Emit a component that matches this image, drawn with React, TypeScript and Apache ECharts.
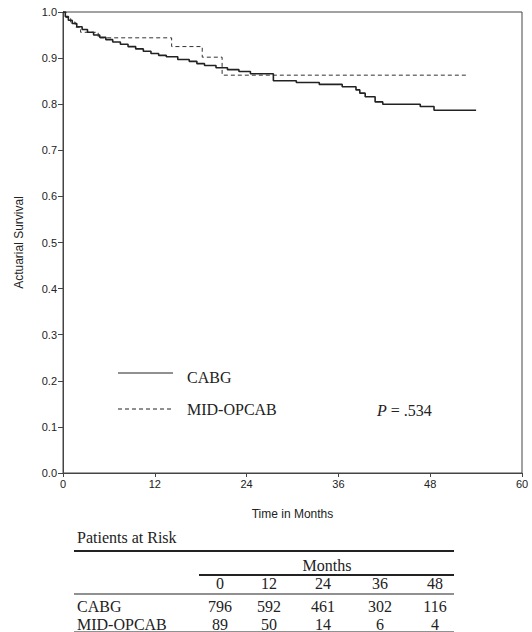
import React, { useEffect, useRef } from "react";
import * as echarts from "echarts";

const cabgMonths = [0, 0.3, 0.7, 1.2, 1.8, 2.5, 3.2, 4.0, 4.8, 5.6, 6.5, 7.5, 8.5, 9.5, 10.5, 11.5, 12.5, 13.5, 15.0, 16.5, 17.5, 18.5, 20.0, 21.5, 23.0, 24.5, 27.5, 30.5, 33.5, 36.5, 38.3, 38.8, 39.5, 40.8, 41.8, 46.7, 48.5, 54.0];
const cabgSurvival = [1.0, 0.99, 0.982, 0.975, 0.968, 0.962, 0.956, 0.95, 0.945, 0.94, 0.935, 0.93, 0.925, 0.92, 0.915, 0.91, 0.906, 0.903, 0.897, 0.893, 0.888, 0.884, 0.879, 0.875, 0.871, 0.866, 0.851, 0.847, 0.843, 0.838, 0.831, 0.824, 0.816, 0.805, 0.8, 0.795, 0.787, 0.787];

const opcabMonths = [0, 0.4, 1.0, 1.6, 2.3, 4.6, 14.2, 18.2, 20.8, 53.0];
const opcabSurvival = [1.0, 0.988, 0.978, 0.967, 0.956, 0.944, 0.925, 0.902, 0.863, 0.863];

const xTicks = [0, 12, 24, 36, 48, 60];

const riskMonths = ["0", "12", "24", "36", "48"];
const riskCabg = ["796", "592", "461", "302", "116"];
const riskOpcab = ["89", "50", "14", "6", "4"];
const riskGroups = ["CABG", "MID-OPCAB"];

const SERIF = "'Liberation Serif', 'Times New Roman', serif";
const SANS = "'Liberation Sans', Arial, sans-serif";
const INK = "#222";
const FS = 16;

export default function App() {
  const ref = useRef<HTMLDivElement>(null);

  useEffect(() => {
    if (!ref.current) return;
    const chart = echarts.init(ref.current, undefined, { renderer: "svg" });

    const colX = [220, 269, 323, 380, 435];
    const txt = (text: string, x: number, y: number, size: number, align = "left", font = SERIF) => ({
      type: "text",
      x,
      y,
      style: {
        text,
        font: `${size}px ${font}`,
        fill: INK,
        textAlign: align,
        textVerticalAlign: "middle",
        align,
        verticalAlign: "middle",
      },
    });
    const hline = (x1: number, x2: number, y: number, w: number) => ({
      type: "line",
      shape: { x1, y1: y, x2, y2: y },
      style: { stroke: INK, lineWidth: w },
    });

    const graphics: any[] = [
      // legend
      hline(118, 173, 373, 1),
      {
        type: "line",
        shape: { x1: 118, y1: 409, x2: 173, y2: 409 },
        style: { stroke: INK, lineWidth: 1, lineDash: [4, 3] },
      },
      txt(riskGroups[0], 187, 377, FS),
      txt(riskGroups[1], 187, 409, FS),
      {
        type: "text",
        x: 377,
        y: 410,
        style: {
          text: "{i|P} = .534",
          font: `${FS}px ${SERIF}`,
          fill: INK,
          textVerticalAlign: "middle",
          verticalAlign: "middle",
          rich: { i: { fontStyle: "italic", fontFamily: SERIF, fontSize: FS, fill: INK } },
        },
      },
      // table
      txt("Patients at Risk", 77, 537, FS),
      hline(74, 454, 551, 2),
      txt("Months", 327, 565, FS, "center"),
      hline(199, 454, 575, 2),
      hline(74, 454, 594, 1),
      txt(riskGroups[0], 77, 606, FS),
      txt(riskGroups[1], 77, 624, FS),
      hline(74, 454, 632, 1),
    ];
    riskMonths.forEach((m, i) => {
      graphics.push(txt(m, colX[i], 583, FS, "center"));
      graphics.push(txt(riskCabg[i], colX[i], 606, FS, "center"));
      graphics.push(txt(riskOpcab[i], colX[i], 624, FS, "center"));
    });

    chart.setOption({
      animation: false,
      backgroundColor: "#fff",
      grid: {
        left: 63,
        right: 10,
        top: 12,
        bottom: 159,
        show: true,
        borderColor: "#444",
        borderWidth: 1,
        backgroundColor: "transparent",
      },
      xAxis: {
        type: "value",
        min: 0,
        max: 60,
        interval: 12,
        name: "Time in Months",
        nameLocation: "middle",
        nameGap: 35,
        nameTextStyle: { fontFamily: SANS, fontSize: 12, color: INK },
        axisLine: { show: true, lineStyle: { color: "#444" } },
        axisTick: { show: true, length: 4, lineStyle: { color: "#444" } },
        axisLabel: {
          fontFamily: SANS,
          fontSize: 11,
          color: INK,
          margin: 5,
          formatter: (v: number) => (xTicks.includes(v) ? String(v) : ""),
        },
        splitLine: { show: false },
      },
      yAxis: {
        type: "value",
        min: 0,
        max: 1,
        interval: 0.1,
        name: "Actuarial Survival",
        nameLocation: "middle",
        nameGap: 38,
        nameTextStyle: { fontFamily: SANS, fontSize: 12, color: INK },
        axisLine: { show: true, lineStyle: { color: "#444" } },
        axisTick: { show: true, length: 5, lineStyle: { color: "#444" } },
        axisLabel: {
          fontFamily: SANS,
          fontSize: 11,
          color: INK,
          margin: 6,
          formatter: (v: number) => v.toFixed(1),
        },
        splitLine: { show: false },
      },
      series: [
        {
          name: "CABG",
          type: "line",
          step: "end",
          symbol: "none",
          data: cabgMonths.map((m, i) => [m, cabgSurvival[i]]),
          lineStyle: { color: INK, width: 1.6 },
          z: 3,
        },
        {
          name: "MID-OPCAB",
          type: "line",
          step: "end",
          symbol: "none",
          data: opcabMonths.map((m, i) => [m, opcabSurvival[i]]),
          lineStyle: { color: "#333", width: 1, type: [4, 3] },
          z: 2,
        },
      ],
      graphic: graphics,
    });

    return () => chart.dispose();
  }, []);

  return (
    <div
      ref={ref}
      style={{ position: "fixed", left: 0, top: 0, width: 532, height: 632, background: "#fff" }}
    />
  );
}
